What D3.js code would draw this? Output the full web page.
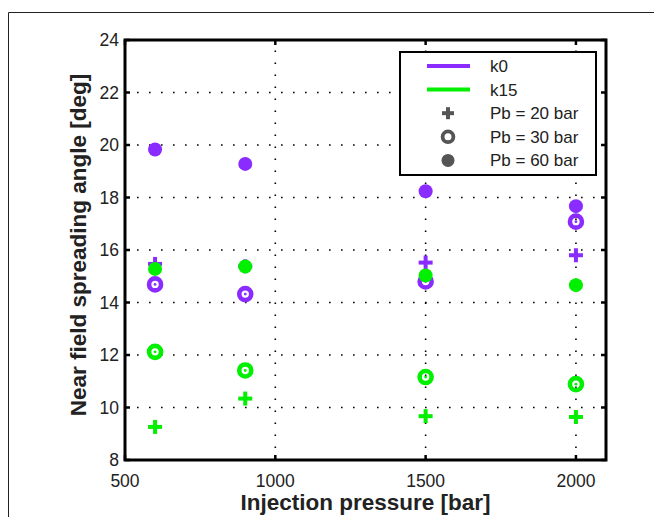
<!DOCTYPE html>
<html>
<head>
<meta charset="utf-8">
<script src="https://cdn.jsdelivr.net/npm/d3@7"></script>
<style>
  body { margin: 0; background: #fff; }
  text { font-family: "Liberation Sans", Arial, sans-serif; }
</style>
</head>
<body>
<div id="chart"></div>
<script>
// injection pressures [bar]
const pressures = [600, 900, 1500, 2000];

// near field spreading angle [deg], per nozzle and back pressure
const k0_pb20 = [15.47, 15.38, 15.52, 15.8];
const k0_pb30 = [14.69, 14.32, 14.8, 17.08];
const k0_pb60 = [19.83, 19.28, 18.24, 17.67];
const k15_pb20 = [9.26, 10.34, 9.67, 9.64];
const k15_pb30 = [12.12, 11.41, 11.16, 10.89];
const k15_pb60 = [15.28, 15.37, 15.03, 14.66];

const xTicks = [500, 1000, 1500, 2000];
const yTicks = [8, 10, 12, 14, 16, 18, 20, 22, 24];

const purple = "#8a2cff";
const green = "#00f000";

const width = 654, height = 517;
const margin = { left: 125, right: 48, top: 40, bottom: 57 };

const svg = d3.select("#chart").append("svg")
  .attr("width", width)
  .attr("height", height);

// outer figure frame (only top/left visible)
svg.append("line").attr("x1", 8.5).attr("x2", width).attr("y1", 12.5).attr("y2", 12.5)
  .attr("stroke", "#222").attr("stroke-width", 1);
svg.append("line").attr("x1", 8.5).attr("x2", 8.5).attr("y1", 12.5).attr("y2", height)
  .attr("stroke", "#222").attr("stroke-width", 1);

const x = d3.scaleLinear().domain([500, 2100]).range([margin.left, width - margin.right]);
const y = d3.scaleLinear().domain([8, 24]).range([height - margin.bottom, margin.top]);

const x0 = x.range()[0], x1 = x.range()[1];
const y0 = y.range()[0], y1 = y.range()[1];

// dotted grid
const grid = svg.append("g").attr("stroke", "#000").attr("stroke-width", 1.6)
  .attr("stroke-dasharray", "1.6,10.4");
grid.selectAll(".gx").data(xTicks.filter(d => d > 500)).enter().append("line")
  .attr("x1", d => x(d)).attr("x2", d => x(d)).attr("y1", y0).attr("y2", y1);
grid.selectAll(".gy").data(yTicks.filter(d => d > 8 && d < 24)).enter().append("line")
  .attr("x1", x0).attr("x2", x1).attr("y1", d => y(d)).attr("y2", d => y(d));

// markers
function plus(g, xs, ys, color) {
  const s = 7;
  const p = g.append("g").attr("stroke", color).attr("stroke-width", 4);
  xs.forEach((v, i) => {
    p.append("line").attr("x1", x(v) - s).attr("x2", x(v) + s).attr("y1", y(ys[i])).attr("y2", y(ys[i]));
    p.append("line").attr("x1", x(v)).attr("x2", x(v)).attr("y1", y(ys[i]) - s).attr("y2", y(ys[i]) + s);
  });
}
function ring(g, xs, ys, color) {
  const p = g.append("g");
  p.selectAll("circle.o").data(xs).enter().append("circle")
    .attr("cx", d => x(d)).attr("cy", (d, i) => y(ys[i])).attr("r", 6)
    .attr("fill", "none").attr("stroke", color).attr("stroke-width", 4.6);
  p.selectAll("circle.c").data(xs).enter().append("circle")
    .attr("cx", d => x(d)).attr("cy", (d, i) => y(ys[i])).attr("r", 1.4)
    .attr("fill", color);
}
function dot(g, xs, ys, color) {
  g.append("g").selectAll("circle").data(xs).enter().append("circle")
    .attr("cx", d => x(d)).attr("cy", (d, i) => y(ys[i])).attr("r", 7)
    .attr("fill", color);
}

const marks = svg.append("g");
plus(marks, pressures, k0_pb20, purple);
ring(marks, pressures, k0_pb30, purple);
dot(marks, pressures, k0_pb60, purple);
plus(marks, pressures, k15_pb20, green);
ring(marks, pressures, k15_pb30, green);
dot(marks, pressures, k15_pb60, green);

// inward ticks on all four sides
const tl = 5;
const ticks = svg.append("g").attr("stroke", "#000").attr("stroke-width", 2.5);
xTicks.forEach(d => {
  ticks.append("line").attr("x1", x(d)).attr("x2", x(d)).attr("y1", y0).attr("y2", y0 - tl);
  ticks.append("line").attr("x1", x(d)).attr("x2", x(d)).attr("y1", y1).attr("y2", y1 + tl);
});
yTicks.forEach(d => {
  ticks.append("line").attr("x1", x0).attr("x2", x0 + tl).attr("y1", y(d)).attr("y2", y(d));
  ticks.append("line").attr("x1", x1).attr("x2", x1 - tl).attr("y1", y(d)).attr("y2", y(d));
});

// axis box
svg.append("rect").attr("x", x0).attr("y", y1).attr("width", x1 - x0).attr("height", y0 - y1)
  .attr("fill", "none").attr("stroke", "#000").attr("stroke-width", 3);

// tick labels
svg.append("g").selectAll("text").data(xTicks).enter().append("text")
  .attr("x", d => x(d)).attr("y", y0 + 27)
  .attr("text-anchor", "middle").attr("font-size", 17.5).attr("fill", "#222")
  .text(d => d);
svg.append("g").selectAll("text").data(yTicks).enter().append("text")
  .attr("x", x0 - 6).attr("y", d => y(d) + 6)
  .attr("text-anchor", "end").attr("font-size", 17.5).attr("fill", "#222")
  .text(d => d);

// axis titles
svg.append("text").attr("x", (x0 + x1) / 2).attr("y", 510)
  .attr("text-anchor", "middle").attr("font-size", 22.5).attr("font-weight", "bold")
  .attr("fill", "#222").text("Injection pressure [bar]");
svg.append("text").attr("transform", `translate(86,${(y0 + y1) / 2 - 5}) rotate(-90)`)
  .attr("text-anchor", "middle").attr("font-size", 22.5).attr("font-weight", "bold")
  .attr("fill", "#222").text("Near field spreading angle [deg]");

// legend
const legendItems = [
  { label: "k0", type: "line", color: purple },
  { label: "k15", type: "line", color: green },
  { label: "Pb = 20 bar", type: "plus", color: "#555" },
  { label: "Pb = 30 bar", type: "ring", color: "#555" },
  { label: "Pb = 60 bar", type: "dot", color: "#555" }
];
const lg = svg.append("g");
lg.append("rect").attr("x", 400).attr("y", 52).attr("width", 196).attr("height", 123)
  .attr("fill", "#fff").attr("stroke", "#000").attr("stroke-width", 2);
legendItems.forEach((d, i) => {
  const cy = 66 + i * 23.6;
  const cx = 448;
  if (d.type === "line") {
    lg.append("line").attr("x1", 427).attr("x2", 470).attr("y1", cy).attr("y2", cy)
      .attr("stroke", d.color).attr("stroke-width", 4);
  } else if (d.type === "plus") {
    lg.append("line").attr("x1", cx - 6).attr("x2", cx + 6).attr("y1", cy).attr("y2", cy)
      .attr("stroke", d.color).attr("stroke-width", 4);
    lg.append("line").attr("x1", cx).attr("x2", cx).attr("y1", cy - 6).attr("y2", cy + 6)
      .attr("stroke", d.color).attr("stroke-width", 4);
  } else if (d.type === "ring") {
    lg.append("circle").attr("cx", cx).attr("cy", cy).attr("r", 5.4)
      .attr("fill", "none").attr("stroke", d.color).attr("stroke-width", 3.8);
  } else {
    lg.append("circle").attr("cx", cx).attr("cy", cy).attr("r", 6.5).attr("fill", d.color);
  }
  lg.append("text").attr("x", 490).attr("y", cy + 6)
    .attr("font-size", 17).attr("fill", "#222").text(d.label);
});
</script>
</body>
</html>
